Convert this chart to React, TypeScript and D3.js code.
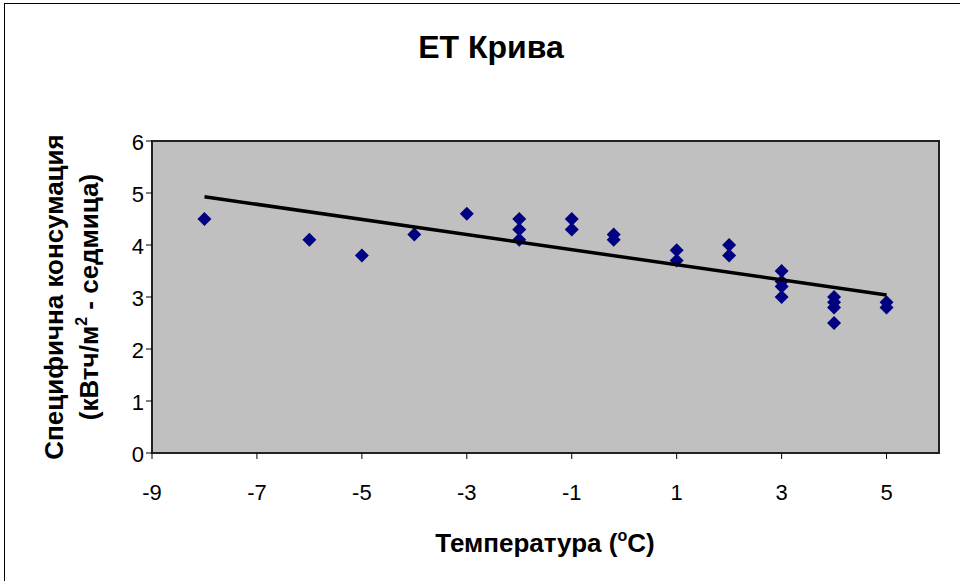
import { line, scaleLinear, symbol, symbolSquare } from 'd3';

// weekly readings: outdoor temperature (°C) vs specific consumption (kWh/m² per week)
const temperatures = [
  -8, -6, -5, -4, -3, -2, -2, -2, -1, -1, -0.2, -0.2, 1, 1, 2, 2, 3, 3, 3, 3, 4, 4, 4, 4, 5, 5,
];
const consumption = [
  4.5, 4.1, 3.8, 4.2, 4.6, 4.5, 4.3, 4.1, 4.5, 4.3, 4.2, 4.1, 3.9, 3.7, 4.0, 3.8, 3.5, 3.3, 3.2, 3.0,
  3.0, 2.9, 2.8, 2.5, 2.9, 2.8,
];
const xTicks = [-9, -7, -5, -3, -1, 1, 3, 5];
const yTicks = [0, 1, 2, 3, 4, 5, 6];

const width = 960;
const height = 581;
const plot = { left: 152, top: 141, right: 939, bottom: 453 };
const font = '"Liberation Sans", Arial, sans-serif';

function linearFit(xs: Array<number>, ys: Array<number>) {
  const n = xs.length;
  const mx = xs.reduce((a, b) => a + b, 0) / n;
  const my = ys.reduce((a, b) => a + b, 0) / n;
  let sxy = 0;
  let sxx = 0;
  xs.forEach((x, i) => {
    sxy += (x - mx) * (ys[i] - my);
    sxx += (x - mx) * (x - mx);
  });
  const slope = sxy / sxx;
  return { slope, intercept: my - slope * mx };
}

export default function App(): JSX.Element {
  const scaleX = scaleLinear().domain([-9, 6]).range([plot.left, plot.right]);
  const scaleY = scaleLinear().domain([0, 6]).range([plot.bottom, plot.top]);

  const fit = linearFit(temperatures, consumption);
  const xMin = Math.min(...temperatures);
  const xMax = Math.max(...temperatures);
  const trend = line<number>()
    .x((d) => scaleX(d))
    .y((d) => scaleY(fit.intercept + fit.slope * d))([xMin, xMax]);

  const diamond = symbol().type(symbolSquare).size(98)();

  return (
    <svg
      width={width}
      height={height}
      style={{ position: 'absolute', left: 0, top: 0, background: '#fff' }}
      fontFamily={font}
    >
      <rect x={4.5} y={3.5} width={width} height={height} fill="#fff" stroke="#000" strokeWidth={1} />

      <text x={491} y={58} textAnchor="middle" fontSize={32} fontWeight="bold">
        ЕТ Крива
      </text>

      <rect
        x={plot.left}
        y={plot.top}
        width={plot.right - plot.left}
        height={plot.bottom - plot.top}
        fill="#c0c0c0"
        stroke="#222"
        strokeWidth={2}
      />

      {yTicks.map((t) => (
        <g key={`y${t}`}>
          <line x1={plot.left - 6} x2={plot.left} y1={scaleY(t)} y2={scaleY(t)} stroke="#000" />
          <text x={plot.left - 8} y={scaleY(t) + 9} textAnchor="end" fontSize={22}>
            {t}
          </text>
        </g>
      ))}

      {xTicks.map((t) => (
        <g key={`x${t}`}>
          <line x1={scaleX(t)} x2={scaleX(t)} y1={plot.bottom} y2={plot.bottom + 6} stroke="#000" />
          <text x={scaleX(t)} y={plot.bottom + 47} textAnchor="middle" fontSize={22}>
            {t}
          </text>
        </g>
      ))}

      {temperatures.map((t, i) => (
        <path
          key={i}
          d={diamond}
          transform={`translate(${scaleX(t)},${scaleY(consumption[i])}) rotate(45)`}
          fill="#000080"
        />
      ))}

      <path d={trend ?? ''} fill="none" stroke="#000" strokeWidth={3.5} />

      <text x={545} y={552} textAnchor="middle" fontSize={26} fontWeight="bold">
        Температура (
        <tspan fontSize={16} dy={-11}>
          o
        </tspan>
        <tspan dy={11}>C)</tspan>
      </text>

      <g transform={`translate(63,${(plot.top + plot.bottom) / 2}) rotate(-90)`}>
        <text x={0} y={0} textAnchor="middle" fontSize={26} fontWeight="bold">
          Специфична консумация
        </text>
        <text x={0} y={35} textAnchor="middle" fontSize={26} fontWeight="bold">
          (кВтч/м
          <tspan fontSize={16} dy={-11}>
            2
          </tspan>
          <tspan dy={11}> - седмица)</tspan>
        </text>
      </g>
    </svg>
  );
}
